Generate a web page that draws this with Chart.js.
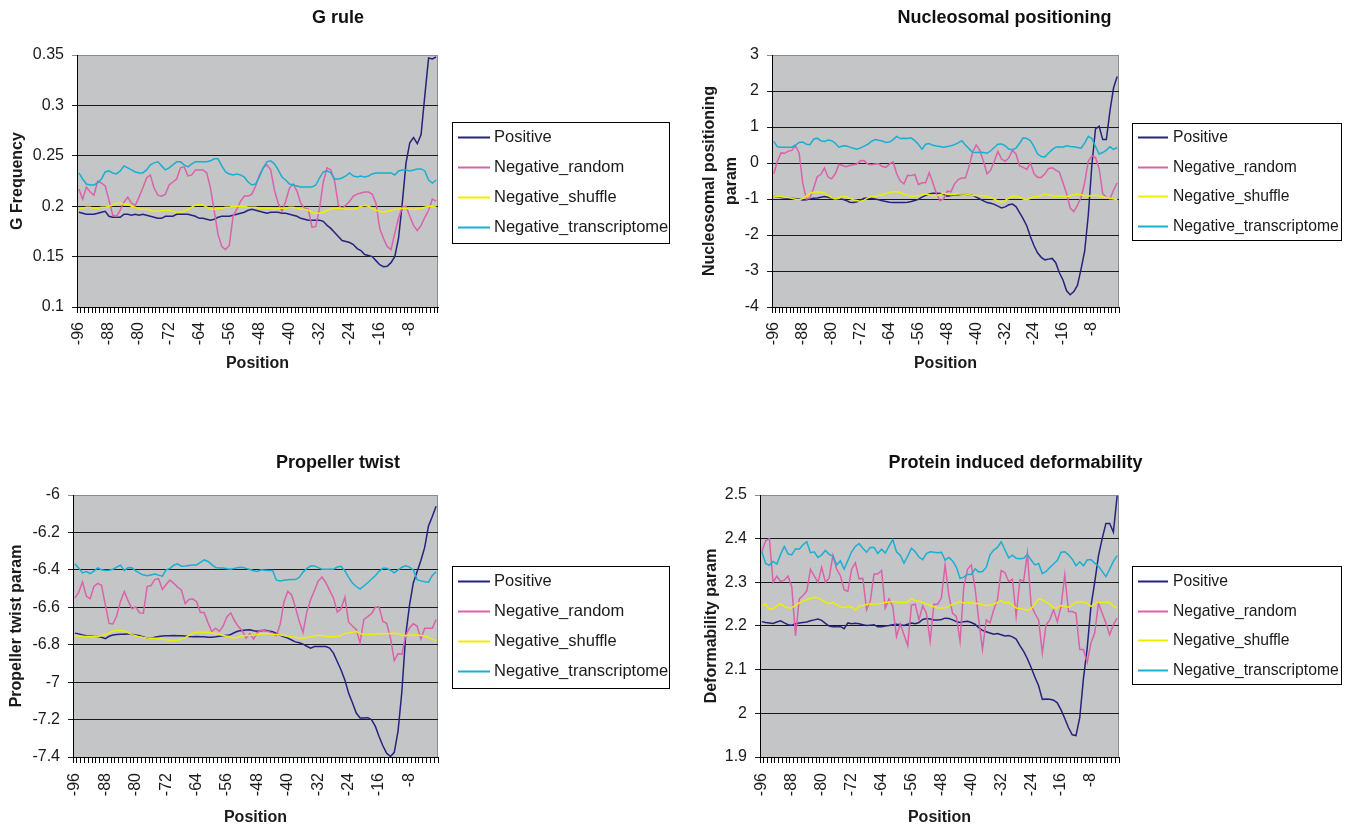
<!DOCTYPE html>
<html>
<head>
<meta charset="utf-8">
<script src="https://cdn.jsdelivr.net/npm/chart.js@4.4.1/dist/chart.umd.min.js"></script>
<style>
  html, body { margin: 0; padding: 0; background: #fff; overflow: hidden; }
  body { width: 1345px; height: 826px; position: relative; }
  canvas { position: absolute; }
</style>
</head>
<body>
<canvas id="gRule" width="676" height="413" style="left:0;top:0"></canvas>
<canvas id="nucleosome" width="677" height="413" style="left:666px;top:0"></canvas>
<canvas id="propeller" width="676" height="395" style="left:0;top:445px"></canvas>
<canvas id="deform" width="655" height="395" style="left:688px;top:445px"></canvas>
<script>
// Categories (position relative to start)
const positions = [
	-96, -95, -94, -93, -92, -91, -90, -89, -88, -87, -86, -85, -84, -83, -82, -81,
	-80, -79, -78, -77, -76, -75, -74, -73, -72, -71, -70, -69, -68, -67, -66, -65,
	-64, -63, -62, -61, -60, -59, -58, -57, -56, -55, -54, -53, -52, -51, -50, -49,
	-48, -47, -46, -45, -44, -43, -42, -41, -40, -39, -38, -37, -36, -35, -34, -33,
	-32, -31, -30, -29, -28, -27, -26, -25, -24, -23, -22, -21, -20, -19, -18, -17,
	-16, -15, -14, -13, -12, -11, -10, -9, -8, -7, -6, -5, -4, -3, -2, -1,
];
const seriesNames = ['Positive', 'Negative_random', 'Negative_shuffle', 'Negative_transcriptome'];
const seriesColors = ['#25237c', '#da62a8', '#eeee00', '#19afd3'];

// G rule
const gTicks = [0.1, 0.15, 0.2, 0.25, 0.3, 0.35];
const gPositive = [
	0.194, 0.193, 0.192, 0.192, 0.192, 0.193, 0.194, 0.195,
	0.190, 0.189, 0.189, 0.189, 0.192, 0.192, 0.191, 0.192,
	0.191, 0.192, 0.191, 0.190, 0.189, 0.188, 0.188, 0.190,
	0.190, 0.190, 0.192, 0.192, 0.192, 0.192, 0.191, 0.190,
	0.188, 0.188, 0.187, 0.186, 0.187, 0.189, 0.190, 0.190,
	0.190, 0.191, 0.192, 0.193, 0.194, 0.196, 0.197, 0.196,
	0.195, 0.194, 0.193, 0.194, 0.194, 0.194, 0.193, 0.193,
	0.192, 0.191, 0.190, 0.188, 0.187, 0.186, 0.186, 0.186,
	0.186, 0.185, 0.181, 0.178, 0.174, 0.170, 0.166, 0.165,
	0.164, 0.162, 0.158, 0.156, 0.152, 0.151, 0.150, 0.146,
	0.142, 0.140, 0.1405, 0.144, 0.150, 0.168, 0.203, 0.243,
	0.263, 0.268, 0.262, 0.271, 0.310, 0.347, 0.346, 0.348,
];
const gRandom = [
	0.217, 0.207, 0.219, 0.214, 0.211, 0.225, 0.223, 0.220,
	0.206, 0.191, 0.190, 0.196, 0.204, 0.209, 0.203, 0.201,
	0.209, 0.218, 0.228, 0.231, 0.218, 0.211, 0.210, 0.212,
	0.221, 0.224, 0.227, 0.238, 0.239, 0.230, 0.231, 0.236,
	0.236, 0.236, 0.233, 0.218, 0.195, 0.172, 0.160, 0.157,
	0.161, 0.190, 0.197, 0.205, 0.210, 0.210, 0.212, 0.220,
	0.231, 0.238, 0.241, 0.236, 0.216, 0.203, 0.195, 0.205,
	0.218, 0.222, 0.215, 0.203, 0.198, 0.197, 0.179, 0.180,
	0.198, 0.224, 0.238, 0.236, 0.225, 0.201, 0.198, 0.201,
	0.205, 0.210, 0.212, 0.213, 0.214, 0.214, 0.212, 0.203,
	0.178, 0.168, 0.160, 0.157, 0.173, 0.188, 0.199, 0.200,
	0.190, 0.181, 0.176, 0.181, 0.189, 0.196, 0.207, 0.205,
];
const gShuffle = [
	0.198, 0.198, 0.199, 0.199, 0.198, 0.198, 0.199, 0.199,
	0.200, 0.201, 0.203, 0.203, 0.202, 0.202, 0.200, 0.199,
	0.197, 0.197, 0.197, 0.196, 0.195, 0.195, 0.196, 0.196,
	0.196, 0.195, 0.194, 0.194, 0.195, 0.197, 0.199, 0.201,
	0.202, 0.201, 0.199, 0.197, 0.197, 0.198, 0.198, 0.199,
	0.199, 0.200, 0.200, 0.200, 0.200, 0.199, 0.199, 0.199,
	0.198, 0.198, 0.198, 0.198, 0.197, 0.198, 0.198, 0.198,
	0.199, 0.199, 0.198, 0.197, 0.197, 0.196, 0.194, 0.193,
	0.193, 0.194, 0.196, 0.197, 0.198, 0.198, 0.198, 0.197,
	0.197, 0.197, 0.198, 0.200, 0.201, 0.200, 0.198, 0.196,
	0.195, 0.194, 0.195, 0.196, 0.197, 0.197, 0.198, 0.198,
	0.197, 0.197, 0.197, 0.198, 0.199, 0.200, 0.200, 0.199,
];
const gTranscriptome = [
	0.233, 0.227, 0.222, 0.221, 0.221, 0.223, 0.227, 0.234,
	0.235, 0.233, 0.232, 0.235, 0.240, 0.238, 0.236, 0.234,
	0.233, 0.233, 0.236, 0.241, 0.243, 0.244, 0.240, 0.236,
	0.238, 0.241, 0.244, 0.244, 0.241, 0.239, 0.242, 0.244,
	0.244, 0.244, 0.244, 0.245, 0.247, 0.247, 0.240, 0.234,
	0.232, 0.231, 0.232, 0.231, 0.229, 0.224, 0.221, 0.222,
	0.229, 0.238, 0.244, 0.245, 0.242, 0.236, 0.229, 0.226,
	0.222, 0.221, 0.220, 0.219, 0.219, 0.219, 0.219, 0.221,
	0.228, 0.234, 0.235, 0.233, 0.227, 0.227, 0.228, 0.230,
	0.233, 0.230, 0.229, 0.230, 0.229, 0.230, 0.232, 0.233,
	0.233, 0.233, 0.233, 0.233, 0.231, 0.235, 0.236, 0.236,
	0.235, 0.236, 0.237, 0.237, 0.235, 0.226, 0.223, 0.226,
];

// Nucleosomal positioning
const nucTicks = [-4, -3, -2, -1, 0, 1, 2, 3];
const nucPositive = [
	-0.93, -0.94, -0.96, -0.97, -0.98, -0.98, -0.99, -1.00,
	-1.03, -1.02, -1.00, -0.98, -0.97, -0.95, -0.93, -0.95,
	-0.98, -1.00, -1.00, -1.01, -1.04, -1.09, -1.10, -1.08,
	-1.03, -0.98, -0.97, -0.98, -1.00, -1.02, -1.05, -1.07,
	-1.09, -1.10, -1.10, -1.10, -1.10, -1.09, -1.07, -1.04,
	-1.01, -0.95, -0.90, -0.86, -0.84, -0.84, -0.85, -0.87,
	-0.92, -0.90, -0.88, -0.88, -0.87, -0.87, -0.88, -0.90,
	-0.95, -1.00, -1.05, -1.10, -1.12, -1.15, -1.20, -1.25,
	-1.22, -1.16, -1.14, -1.21, -1.38, -1.55, -1.75, -2.05,
	-2.30, -2.50, -2.62, -2.69, -2.67, -2.65, -2.77, -3.05,
	-3.25, -3.55, -3.66, -3.57, -3.40, -2.95, -2.45, -1.45,
	-0.05, 0.95, 1.02, 0.65, 0.65, 1.45, 2.09, 2.40,
];
const nucRandom = [
	-0.30, 0.05, 0.28, 0.27, 0.33, 0.35, 0.48, 0.28,
	-0.55, -1.00, -0.97, -0.70, -0.38, -0.32, -0.14, -0.39,
	-0.44, -0.30, -0.04, -0.07, -0.10, -0.07, -0.05, -0.03,
	0.07, 0.06, -0.03, -0.05, -0.03, -0.02, -0.10, -0.12,
	-0.03, 0.03, -0.30, -0.50, -0.58, -0.35, -0.35, -0.32,
	-0.60, -0.55, -0.55, -0.27, -0.55, -0.85, -1.05, -0.99,
	-0.78, -0.80, -0.58, -0.46, -0.42, -0.42, -0.10, 0.30,
	0.50, 0.35, 0.05, -0.30, -0.20, 0.05, 0.32, 0.11,
	0.05, 0.14, 0.35, 0.25, -0.08, -0.12, -0.18, 0.00,
	-0.30, -0.40, -0.40, -0.30, -0.15, -0.13, -0.20, -0.25,
	-0.55, -0.85, -1.25, -1.35, -1.18, -0.95, -0.55, 0.05,
	0.20, 0.15, -0.15, -0.85, -0.95, -1.00, -0.75, -0.55,
];
const nucShuffle = [
	-0.93, -0.93, -0.94, -0.95, -0.96, -0.98, -1.01, -1.02,
	-0.99, -0.92, -0.84, -0.81, -0.80, -0.81, -0.84, -0.90,
	-0.97, -1.00, -0.98, -0.92, -0.94, -0.98, -1.02, -1.04,
	-1.07, -1.03, -0.97, -0.93, -0.93, -0.90, -0.88, -0.85,
	-0.82, -0.80, -0.79, -0.82, -0.86, -0.90, -0.93, -0.92,
	-0.91, -0.88, -0.86, -0.88, -0.90, -0.91, -0.88, -0.84,
	-0.86, -0.88, -0.87, -0.86, -0.86, -0.86, -0.88, -0.90,
	-0.90, -0.90, -0.91, -0.93, -0.96, -1.00, -1.06, -1.09,
	-1.04, -0.98, -0.93, -0.92, -0.94, -1.00, -1.02, -0.98,
	-0.94, -0.93, -0.90, -0.86, -0.88, -0.91, -0.93, -0.92,
	-0.92, -0.93, -0.92, -0.88, -0.87, -0.88, -0.91, -0.92,
	-0.90, -0.89, -0.92, -0.94, -0.96, -0.98, -1.00, -1.02,
];
const nucTranscriptome = [
	0.60, 0.45, 0.44, 0.44, 0.44, 0.44, 0.50, 0.57,
	0.58, 0.52, 0.51, 0.66, 0.69, 0.62, 0.60, 0.64,
	0.62, 0.55, 0.44, 0.47, 0.48, 0.44, 0.41, 0.38,
	0.42, 0.47, 0.52, 0.60, 0.65, 0.63, 0.61, 0.57,
	0.58, 0.65, 0.74, 0.68, 0.69, 0.68, 0.70, 0.62,
	0.52, 0.38, 0.52, 0.54, 0.49, 0.47, 0.46, 0.44,
	0.46, 0.48, 0.51, 0.56, 0.62, 0.50, 0.40, 0.30,
	0.29, 0.30, 0.29, 0.27, 0.34, 0.43, 0.52, 0.53,
	0.48, 0.39, 0.37, 0.41, 0.55, 0.70, 0.68, 0.62,
	0.45, 0.25, 0.18, 0.17, 0.27, 0.37, 0.44, 0.45,
	0.44, 0.48, 0.46, 0.45, 0.43, 0.41, 0.55, 0.74,
	0.68, 0.46, 0.25, 0.29, 0.36, 0.45, 0.38, 0.43,
];

// Propeller twist
const propTicks = [-7.4, -7.2, -7, -6.8, -6.6, -6.4, -6.2, -6];
const propPositive = [
	-6.738, -6.742, -6.748, -6.752, -6.753, -6.755, -6.756, -6.760,
	-6.768, -6.755, -6.748, -6.745, -6.744, -6.744, -6.742, -6.745,
	-6.748, -6.752, -6.758, -6.764, -6.765, -6.760, -6.756, -6.753,
	-6.752, -6.752, -6.751, -6.752, -6.752, -6.754, -6.756, -6.757,
	-6.756, -6.757, -6.758, -6.760, -6.760, -6.758, -6.755, -6.752,
	-6.750, -6.745, -6.735, -6.727, -6.724, -6.722, -6.720, -6.725,
	-6.728, -6.725, -6.723, -6.727, -6.730, -6.740, -6.750, -6.758,
	-6.765, -6.775, -6.785, -6.790, -6.797, -6.808, -6.818, -6.810,
	-6.810, -6.810, -6.810, -6.818, -6.845, -6.890, -6.935, -6.988,
	-7.060, -7.110, -7.165, -7.192, -7.192, -7.190, -7.200, -7.235,
	-7.290, -7.340, -7.380, -7.397, -7.375, -7.260, -7.050, -6.750,
	-6.590, -6.470, -6.410, -6.350, -6.280, -6.165, -6.115, -6.060,
];
const propRandom = [
	-6.550, -6.520, -6.465, -6.540, -6.555, -6.489, -6.472, -6.482,
	-6.587, -6.686, -6.689, -6.645, -6.567, -6.516, -6.566, -6.608,
	-6.598, -6.630, -6.632, -6.489, -6.484, -6.452, -6.447, -6.505,
	-6.478, -6.454, -6.472, -6.492, -6.507, -6.580, -6.558, -6.555,
	-6.570, -6.628, -6.628, -6.682, -6.730, -6.712, -6.728, -6.700,
	-6.650, -6.630, -6.672, -6.703, -6.725, -6.765, -6.740, -6.770,
	-6.735, -6.721, -6.725, -6.730, -6.740, -6.752, -6.690, -6.570,
	-6.515, -6.534, -6.600, -6.675, -6.735, -6.625, -6.560, -6.510,
	-6.460, -6.438, -6.468, -6.510, -6.550, -6.625, -6.610, -6.545,
	-6.680, -6.700, -6.718, -6.790, -6.665, -6.650, -6.634, -6.600,
	-6.597, -6.676, -6.685, -6.765, -6.885, -6.848, -6.852, -6.750,
	-6.710, -6.688, -6.700, -6.770, -6.712, -6.712, -6.712, -6.665,
];
const propShuffle = [
	-6.752, -6.754, -6.755, -6.756, -6.756, -6.756, -6.756, -6.752,
	-6.745, -6.737, -6.728, -6.724, -6.724, -6.726, -6.736, -6.746,
	-6.752, -6.758, -6.762, -6.764, -6.765, -6.766, -6.768, -6.770,
	-6.774, -6.776, -6.778, -6.776, -6.770, -6.762, -6.750, -6.738,
	-6.733, -6.733, -6.734, -6.735, -6.737, -6.740, -6.745, -6.751,
	-6.755, -6.760, -6.764, -6.759, -6.754, -6.751, -6.750, -6.748,
	-6.745, -6.743, -6.741, -6.742, -6.744, -6.745, -6.748, -6.751,
	-6.755, -6.758, -6.760, -6.763, -6.765, -6.762, -6.757, -6.753,
	-6.750, -6.752, -6.755, -6.757, -6.758, -6.756, -6.750, -6.740,
	-6.738, -6.733, -6.730, -6.740, -6.745, -6.745, -6.744, -6.743,
	-6.742, -6.742, -6.741, -6.740, -6.739, -6.740, -6.748, -6.752,
	-6.750, -6.748, -6.748, -6.751, -6.753, -6.760, -6.770, -6.779,
];
const propTranscriptome = [
	-6.368, -6.390, -6.416, -6.409, -6.420, -6.407, -6.390, -6.400,
	-6.404, -6.402, -6.397, -6.385, -6.375, -6.404, -6.387, -6.389,
	-6.405, -6.417, -6.428, -6.432, -6.427, -6.422, -6.428, -6.434,
	-6.400, -6.392, -6.375, -6.368, -6.381, -6.380, -6.377, -6.374,
	-6.374, -6.360, -6.347, -6.355, -6.372, -6.387, -6.390, -6.390,
	-6.394, -6.397, -6.392, -6.388, -6.386, -6.392, -6.398, -6.405,
	-6.409, -6.400, -6.402, -6.404, -6.403, -6.455, -6.459, -6.455,
	-6.453, -6.452, -6.452, -6.440, -6.412, -6.392, -6.380, -6.379,
	-6.388, -6.397, -6.397, -6.397, -6.397, -6.385, -6.381, -6.405,
	-6.440, -6.470, -6.489, -6.503, -6.486, -6.469, -6.450, -6.432,
	-6.408, -6.392, -6.392, -6.402, -6.416, -6.400, -6.386, -6.378,
	-6.385, -6.400, -6.452, -6.459, -6.464, -6.466, -6.430, -6.410,
];

// Protein induced deformability
const defTicks = [1.9, 2, 2.1, 2.2, 2.3, 2.4, 2.5];
const defPositive = [
	2.210, 2.208, 2.207, 2.206, 2.209, 2.212, 2.207, 2.203,
	2.202, 2.205, 2.207, 2.208, 2.209, 2.212, 2.214, 2.216,
	2.213, 2.206, 2.200, 2.198, 2.198, 2.199, 2.194, 2.207,
	2.205, 2.206, 2.205, 2.203, 2.201, 2.202, 2.203, 2.198,
	2.198, 2.200, 2.201, 2.203, 2.204, 2.203, 2.201, 2.204,
	2.207, 2.205, 2.208, 2.215, 2.217, 2.216, 2.214, 2.214,
	2.215, 2.218, 2.217, 2.214, 2.210, 2.208, 2.210, 2.211,
	2.208, 2.204, 2.196, 2.190, 2.187, 2.184, 2.181, 2.183,
	2.180, 2.177, 2.178, 2.175, 2.170, 2.155, 2.142, 2.125,
	2.105, 2.083, 2.063, 2.032, 2.033, 2.032, 2.030, 2.024,
	2.008, 1.988, 1.967, 1.951, 1.949, 1.990, 2.080, 2.150,
	2.245, 2.300, 2.360, 2.400, 2.435, 2.435, 2.415, 2.498,
];
const defRandom = [
	2.370, 2.395, 2.400, 2.300, 2.314, 2.302, 2.305, 2.314,
	2.290, 2.178, 2.262, 2.270, 2.280, 2.330, 2.315, 2.300,
	2.335, 2.300, 2.310, 2.362, 2.330, 2.315, 2.283, 2.279,
	2.330, 2.345, 2.308, 2.309, 2.237, 2.258, 2.319, 2.319,
	2.327, 2.241, 2.262, 2.245, 2.176, 2.205, 2.180, 2.155,
	2.248, 2.250, 2.214, 2.246, 2.229, 2.165, 2.250, 2.250,
	2.264, 2.340, 2.270, 2.229, 2.222, 2.165, 2.290, 2.330,
	2.340, 2.287, 2.214, 2.146, 2.214, 2.207, 2.237, 2.260,
	2.327, 2.322, 2.302, 2.307, 2.222, 2.306, 2.303, 2.367,
	2.248, 2.229, 2.214, 2.138, 2.203, 2.214, 2.237, 2.210,
	2.245, 2.317, 2.233, 2.233, 2.229, 2.146, 2.146, 2.117,
	2.161, 2.184, 2.252, 2.229, 2.207, 2.180, 2.203, 2.218,
];
const defShuffle = [
	2.246, 2.251, 2.238, 2.240, 2.246, 2.251, 2.245, 2.241,
	2.242, 2.247, 2.253, 2.257, 2.260, 2.263, 2.266, 2.264,
	2.260, 2.255, 2.251, 2.254, 2.249, 2.244, 2.242, 2.245,
	2.243, 2.236, 2.246, 2.247, 2.249, 2.251, 2.250, 2.251,
	2.252, 2.254, 2.255, 2.256, 2.255, 2.254, 2.254, 2.255,
	2.263, 2.258, 2.257, 2.254, 2.251, 2.247, 2.244, 2.242,
	2.241, 2.242, 2.245, 2.250, 2.252, 2.257, 2.252, 2.254,
	2.253, 2.252, 2.251, 2.248, 2.247, 2.248, 2.250, 2.254,
	2.258, 2.253, 2.254, 2.248, 2.241, 2.240, 2.238, 2.236,
	2.240, 2.250, 2.262, 2.260, 2.254, 2.250, 2.241, 2.241,
	2.247, 2.245, 2.243, 2.248, 2.254, 2.256, 2.255, 2.252,
	2.245, 2.250, 2.255, 2.254, 2.255, 2.254, 2.245, 2.241,
];
const defTranscriptome = [
	2.370, 2.343, 2.339, 2.348, 2.342, 2.364, 2.382, 2.365,
	2.363, 2.377, 2.376, 2.386, 2.393, 2.368, 2.370, 2.357,
	2.363, 2.373, 2.364, 2.360, 2.340, 2.349, 2.330, 2.350,
	2.370, 2.382, 2.389, 2.378, 2.369, 2.380, 2.380, 2.366,
	2.376, 2.367, 2.383, 2.398, 2.370, 2.362, 2.344, 2.360,
	2.378, 2.370, 2.358, 2.352, 2.366, 2.370, 2.369, 2.368,
	2.369, 2.351, 2.357, 2.349, 2.335, 2.309, 2.312, 2.318,
	2.318, 2.331, 2.324, 2.325, 2.334, 2.363, 2.374, 2.380,
	2.393, 2.374, 2.356, 2.362, 2.355, 2.354, 2.355, 2.364,
	2.351, 2.340, 2.343, 2.320, 2.325, 2.334, 2.342, 2.350,
	2.369, 2.370, 2.363, 2.353, 2.338, 2.347, 2.338, 2.351,
	2.352, 2.344, 2.337, 2.325, 2.313, 2.330, 2.348, 2.361,
];

const FONT = '"Liberation Sans", Arial, Helvetica, sans-serif';
Chart.defaults.font.family = FONT;
Chart.defaults.color = '#1a1a1a';

// grey plot area like the old Excel charts
const plotBackground = {
	id: 'plotBackground',
	beforeDraw(chart) {
		const { ctx, chartArea: a } = chart;
		ctx.save();
		ctx.fillStyle = '#c4c5c7';
		ctx.fillRect(a.left, a.top, a.width, a.height);
		ctx.strokeStyle = '#8c8c8c';
		ctx.lineWidth = 1;
		ctx.beginPath();
		ctx.moveTo(a.right - 0.5, a.top);
		ctx.lineTo(a.right - 0.5, a.bottom);
		ctx.stroke();
		ctx.restore();
	},
};

// framed legend box to the right of the plot
const boxLegend = {
	id: 'boxLegend',
	afterDraw(chart, args, opts) {
		const b = opts.box;
		if (!b) return;
		const ctx = chart.ctx;
		ctx.save();
		ctx.fillStyle = '#fff';
		ctx.fillRect(b.x, b.y, b.w, b.h);
		ctx.strokeStyle = '#000';
		ctx.lineWidth = 1;
		ctx.strokeRect(b.x + 0.5, b.y + 0.5, b.w, b.h);
		ctx.font = b.size + 'px ' + FONT;
		ctx.textBaseline = 'middle';
		chart.data.datasets.forEach(function (ds, i) {
			const y = Math.round(b.y + b.first + i * b.step) + 0.5;
			ctx.strokeStyle = ds.borderColor;
			ctx.lineWidth = 2;
			ctx.beginPath();
			ctx.moveTo(b.x + b.line0, y);
			ctx.lineTo(b.x + b.line1, y);
			ctx.stroke();
			ctx.fillStyle = '#1a1a1a';
			ctx.fillText(ds.label, b.x + b.text, y);
		});
		ctx.restore();
	},
};

function makeChart(id, cfg) {
	const yMin = cfg.yTicks[0];
	const yMax = cfg.yTicks[cfg.yTicks.length - 1];
	return new Chart(document.getElementById(id), {
		type: 'line',
		data: {
			labels: positions,
			datasets: cfg.series.map(function (values, i) {
				return {
					label: seriesNames[i],
					data: values,
					yAxisID: 'y',
					borderColor: seriesColors[i],
					backgroundColor: seriesColors[i],
					borderWidth: 1.5,
					pointRadius: 0,
					tension: 0,
					fill: false,
					order: seriesNames.length - i,
				};
			}),
		},
		options: {
			responsive: false,
			animation: false,
			events: [],
			layout: { padding: 0 },
			plugins: {
				legend: { display: false },
				tooltip: { enabled: false },
				title: {
					display: true,
					text: cfg.title,
					color: '#111',
					font: { size: 18, weight: 'bold' },
					padding: { top: 7.2, bottom: cfg.titleGap },
				},
				boxLegend: { box: cfg.legend },
			},
			scales: {
				x: {
					type: 'category',
					offset: true,
					grid: { offset: true, drawOnChartArea: false, tickLength: 6, color: '#000' },
					border: { color: '#000' },
					ticks: {
						autoSkip: false,
						minRotation: 90,
						maxRotation: 90,
						padding: cfg.xLabelPad,
						font: { size: 16 },
						callback: function (v, i) {
							return i % 8 === 0 ? String(positions[i]) : '';
						},
					},
					title: {
						display: true,
						text: 'Position',
						font: { size: 16, weight: 'bold' },
						padding: { top: 0, bottom: cfg.xTitlePad },
					},
					afterFit: function (s) { s.height = cfg.xHeight; },
				},
				y: {
					type: 'linear',
					position: 'left',
					min: yMin,
					max: yMax,
					afterBuildTicks: function (s) {
						s.ticks = cfg.yTicks.map(function (v) { return { value: v }; });
					},
					ticks: {
						padding: 8,
						font: { size: 16 },
						callback: function (v) { return String(Math.round(v * 1000) / 1000); },
					},
					grid: {
						tickLength: 5,
						color: function (c) {
							return c.tick && c.tick.value === yMax ? '#8c8c8c' : '#1a1a1a';
						},
					},
					border: { color: '#000' },
					title: {
						display: true,
						text: cfg.yTitle,
						font: { size: 16, weight: 'bold', lineHeight: 1.375 },
						padding: { top: cfg.yTitlePad, bottom: 0 },
					},
					afterFit: function (s) { s.width = cfg.yWidth; },
				},
				// empty axis that keeps room for the legend on the right
				pad: {
					type: 'linear',
					axis: 'y',
					position: 'right',
					display: true,
					ticks: { display: false },
					grid: { display: false },
					border: { display: false },
					afterFit: function (s) { s.width = cfg.padWidth; },
				},
			},
		},
		plugins: [plotBackground, boxLegend],
	});
}

makeChart('gRule', {
	title: 'G rule',
	yTitle: 'G Frequency',
	yTicks: gTicks,
	series: [gPositive, gRandom, gShuffle, gTranscriptome],
	yWidth: 77, padWidth: 238, titleGap: 26.2, xHeight: 106,
	xLabelPad: 9, xTitlePad: 39.4, yTitlePad: 6.4,
	legend: { x: 452, y: 122, w: 217, h: 121, first: 15, step: 30, line0: 6, line1: 38, text: 42, size: 16.5 },
});

makeChart('nucleosome', {
	title: 'Nucleosomal positioning',
	yTitle: ['Nucleosomal positioning', 'param'],
	yTicks: nucTicks,
	series: [nucPositive, nucRandom, nucShuffle, nucTranscriptome],
	yWidth: 106, padWidth: 224, titleGap: 26.2, xHeight: 106,
	xLabelPad: 9, xTitlePad: 39.4, yTitlePad: 33,
	legend: { x: 466, y: 123, w: 209, h: 117, first: 14, step: 29.7, line0: 6, line1: 36, text: 41, size: 15.7 },
});

makeChart('propeller', {
	title: 'Propeller twist',
	yTitle: 'Propeller twist param',
	yTicks: propTicks,
	series: [propPositive, propRandom, propShuffle, propTranscriptome],
	yWidth: 73, padWidth: 238, titleGap: 21.2, xHeight: 83,
	xLabelPad: 10, xTitlePad: 12.4, yTitlePad: 6,
	legend: { x: 452, y: 121, w: 217, h: 122, first: 15, step: 30, line0: 6, line1: 38, text: 42, size: 16.5 },
});

makeChart('deform', {
	title: 'Protein induced deformability',
	yTitle: 'Deformability param',
	yTicks: defTicks,
	series: [defPositive, defRandom, defShuffle, defTranscriptome],
	yWidth: 72, padWidth: 224, titleGap: 21.2, xHeight: 83,
	xLabelPad: 10, xTitlePad: 12.4, yTitlePad: 12.4,
	legend: { x: 444, y: 121, w: 209, h: 118, first: 15, step: 29.7, line0: 6, line1: 36, text: 41, size: 15.7 },
});
</script>
</body>
</html>
